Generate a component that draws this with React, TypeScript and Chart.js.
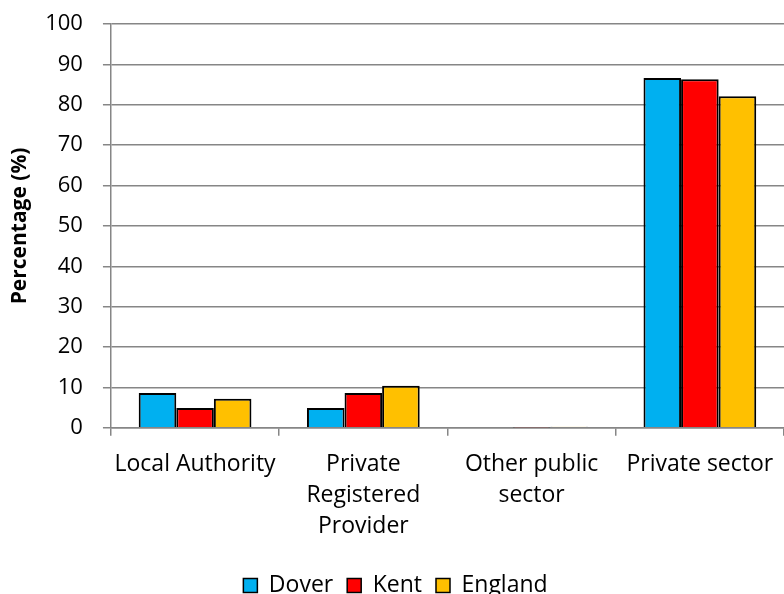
import React, { useEffect, useRef } from "react";
import { Chart, registerables } from "chart.js";

Chart.register(...registerables);

const categories: (string | string[])[] = [
  "Local Authority",
  ["Private", "Registered", "Provider"],
  ["Other public", "sector"],
  "Private sector",
];
const dover = [8.6, 4.9, 0.0, 86.6];
const kent = [4.9, 8.6, 0.1, 86.3];
const england = [7.2, 10.4, 0.3, 82.1];
const seriesNames = ["Dover", "Kent", "England"];
const seriesColors = ["#00B0F0", "#FF0000", "#FFC000"];

const FONT = "'Open Sans', sans-serif";

const legendShift = {
  id: "legendShift",
  afterLayout(chart: any) {
    const lg = chart.legend;
    if (lg) {
      lg.top += 13;
      lg.bottom += 13;
    }
  },
};

export default function App() {
  const ref = useRef<HTMLCanvasElement>(null);
  useEffect(() => {
    document.body.style.margin = "0";
    const ctx = ref.current!;
    const chart = new Chart(ctx, {
      type: "bar",
      data: {
        labels: categories,
        datasets: [dover, kent, england].map((d, i) => ({
          label: seriesNames[i],
          data: d,
          backgroundColor: seriesColors[i],
          borderColor: "#000000",
          borderWidth: 2,
          categoryPercentage: 0.67,
          barPercentage: 1.0,
        })),
      },
      plugins: [legendShift],
      options: {
        responsive: false,
        animation: false,
        devicePixelRatio: 1,
        layout: { padding: { top: 24, right: 0, left: 7, bottom: 0 } },
        plugins: {
          legend: {
            position: "bottom",
            labels: {
              font: { family: FONT, size: 23 },
              color: "#000",
              boxWidth: 14,
              boxHeight: 14,
              padding: 14,
              generateLabels: (c: any) =>
                c.data.datasets.map((ds: any, i: number) => ({
                  text: ds.label,
                  fillStyle: ds.backgroundColor,
                  strokeStyle: "#000",
                  lineWidth: 1.5,
                  datasetIndex: i,
                  fontColor: "#000",
                })),
            },
          },
          tooltip: { enabled: false },
        },
        scales: {
          x: {
            afterFit: (s: any) => {
              s.paddingLeft = 0;
              s.paddingRight = 0;
              s.height -= 8;
            },
            grid: {
              display: true,
              drawOnChartArea: false,
              drawTicks: true,
              tickLength: 8,
              color: "#868686",
              lineWidth: 1.5,
              offset: true,
            },
            border: { color: "#868686", width: 1.5 },
            ticks: {
              font: { family: FONT, size: 23, lineHeight: 1.35 },
              color: "#000",
              maxRotation: 0,
              autoSkip: false,
              padding: 13,
            },
          },
          y: {
            afterFit: (s: any) => {
              s.paddingTop = 0;
              s.paddingBottom = 0;
              s.width -= 19;
            },
            min: 0,
            max: 100,
            ticks: {
              stepSize: 10,
              font: { family: FONT, size: 22 },
              color: "#000",
              padding: 20,
            },
            grid: {
              color: "#868686",
              lineWidth: 1.5,
              tickLength: 8,
            },
            border: { color: "#868686", width: 1.5 },
            title: {
              display: true,
              text: "Percentage (%)",
              font: { family: FONT, size: 21, weight: "bold" },
              color: "#000",
              padding: { top: 0, bottom: 12 },
            },
          },
        },
      },
    });
    return () => chart.destroy();
  }, []);
  return (
    <div style={{ width: 784, height: 594 }}>
      <canvas ref={ref} width={784} height={594} />
    </div>
  );
}
